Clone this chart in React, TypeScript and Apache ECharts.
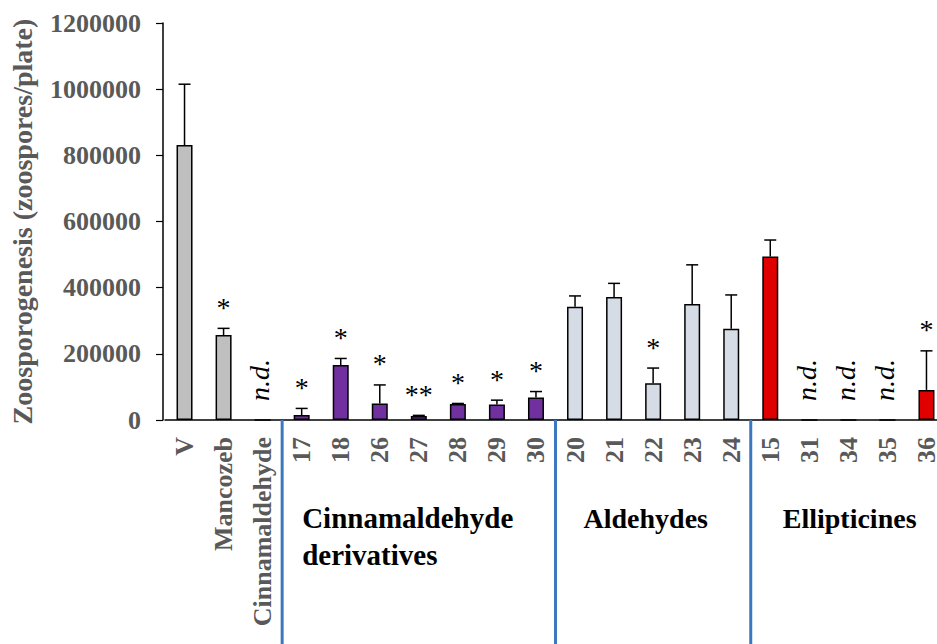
import React, { useEffect, useRef } from "react";
import * as echarts from "echarts";

const categories = ["V", "Mancozeb", "Cinnamaldehyde", "17", "18", "26", "27", "28", "29", "30", "20", "21", "22", "23", "24", "15", "31", "34", "35", "36"];
const means = [831000, 257000, 0, 15000, 166000, 50000, 12000, 48000, 47000, 68000, 342000, 372000, 111000, 351000, 276000, 494000, 0, 0, 0, 91000];
const errors = [184000, 20000, 0, 20000, 20000, 56000, 2000, 2000, 13000, 18000, 33000, 41000, 46000, 118000, 102000, 50000, 0, 0, 0, 118000];
const sig = ["", "*", "", "*", "*", "*", "**", "*", "*", "*", "", "", "*", "", "", "", "", "", "", "*"];
const notDetected = [false, false, true, false, false, false, false, false, false, false, false, false, false, false, false, false, true, true, true, false];
const groupOf = [0, 0, 0, 1, 1, 1, 1, 1, 1, 1, 2, 2, 2, 2, 2, 3, 3, 3, 3, 3];
const groupColors = ["#bfbfbf", "#7030a0", "#d6dce5", "#e00000"];
const groupNames = ["Cinnamaldehyde\nderivatives", "Aldehydes", "Ellipticines"];
const groupStarts = [3, 10, 15];
const yTicks = { min: 0, max: 1200000, interval: 200000 };

const SERIF = "Liberation Serif";
const GRAY = "#595959";

export default function App() {
  const ref = useRef<HTMLDivElement>(null);
  useEffect(() => {
    if (!ref.current) return;
    const chart = echarts.init(ref.current, null, { renderer: "svg" });
    const option: any = {
      animation: false,
      backgroundColor: "#ffffff",
      textStyle: { fontFamily: SERIF },
      grid: { left: 165, top: 23, height: 397, width: 781, containLabel: false, outerBoundsMode: "none" },
      xAxis: {
        type: "category",
        data: categories,
        axisLine: { show: true, lineStyle: { color: "#000", width: 1.5 } },
        axisTick: { show: false },
        axisLabel: {
          rotate: 90,
          margin: 17,
          interval: 0,
          color: GRAY,
          fontFamily: SERIF,
          fontWeight: "bold",
          fontSize: 26,
        },
      },
      yAxis: {
        type: "value",
        min: yTicks.min,
        max: yTicks.max,
        interval: yTicks.interval,
        offset: 2,
        name: "Zoosporogenesis (zoospores/plate)",
        nameLocation: "middle",
        nameGap: 127,
        nameTextStyle: { color: GRAY, fontFamily: SERIF, fontWeight: "bold", fontSize: 28 },
        axisLine: { show: true, lineStyle: { color: "#000", width: 1.5 } },
        axisTick: { show: true, inside: false, length: 7, lineStyle: { color: "#000", width: 1.2 } },
        splitLine: { show: false },
        axisLabel: {
          margin: 22,
          color: GRAY,
          fontFamily: SERIF,
          fontWeight: "bold",
          fontSize: 26,
          formatter: (v: number) => String(v),
        },
      },
      series: [
        {
          type: "bar",
          barWidth: 16,
          data: means.map((v, i) => ({
            value: v,
            itemStyle: { color: groupColors[groupOf[i]], borderColor: "#000", borderWidth: 1.5 },
          })),
        },
        {
          type: "custom",
          clip: false,
          z: 5,
          data: means.map((v, i) => [i, v, errors[i]]),
          renderItem: (params: any, api: any) => {
            const i = params.dataIndex;
            const x = api.value(0);
            const m = api.value(1);
            const e = api.value(2);
            const base = api.coord([x, m]);
            const top = api.coord([x, m + e]);
            const children: any[] = [];
            if (e > 0) {
              children.push({
                type: "line",
                shape: { x1: base[0], y1: base[1], x2: top[0], y2: top[1] },
                style: { stroke: "#000", lineWidth: 1.5 },
              });
              children.push({
                type: "line",
                shape: { x1: top[0] - 6, y1: top[1], x2: top[0] + 6, y2: top[1] },
                style: { stroke: "#000", lineWidth: 1.5 },
              });
            }
            if (sig[i]) {
              children.push({
                type: "text",
                x: top[0],
                y: top[1] - 21,
                style: {
                  text: sig[i],
                  fill: "#000",
                  fontFamily: SERIF,
                  fontSize: 28,
                  align: "center",
                  verticalAlign: "middle",
                },
              });
            }
            if (notDetected[i]) {
              const p0 = api.coord([x, 0]);
              children.push({
                type: "text",
                x: p0[0] - 3,
                y: p0[1] - 19,
                rotation: Math.PI / 2,
                style: {
                  text: "n.d.",
                  fill: "#000",
                  fontFamily: SERIF,
                  fontStyle: "italic",
                  fontSize: 28,
                  align: "left",
                  verticalAlign: "middle",
                },
              });
            }
            return { type: "group", children };
          },
        },
      ],
    };
    chart.setOption(option);

    const px = (i: number) => chart.convertToPixel({ xAxisIndex: 0 }, categories[i]) as number;
    const yBase = chart.convertToPixel({ yAxisIndex: 0 }, 0) as number;
    const labelOffsets = [20, 28, 32];
    const graphics: any[] = [];
    groupStarts.forEach((s, g) => {
      const sx = (px(s - 1) + px(s)) / 2;
      graphics.push({
        type: "line",
        shape: { x1: sx, y1: yBase, x2: sx, y2: 644 },
        style: { stroke: "#3b78c0", lineWidth: 3 },
        z: 10,
      });
      graphics.push({
        type: "text",
        x: sx + labelOffsets[g],
        y: yBase + 79.5,
        style: {
          text: groupNames[g],
          fill: "#000",
          fontFamily: SERIF,
          fontWeight: "bold",
          fontSize: g === 0 ? 29 : 28,
          lineHeight: 37,
          align: "left",
          verticalAlign: "top",
        },
        z: 10,
      });
    });
    chart.setOption({ graphic: graphics });
    return () => chart.dispose();
  }, []);
  return (
    <div style={{ position: "absolute", left: 0, top: 0, width: 937, height: 644 }}>
      <div ref={ref} style={{ width: 937, height: 644 }} />
    </div>
  );
}
